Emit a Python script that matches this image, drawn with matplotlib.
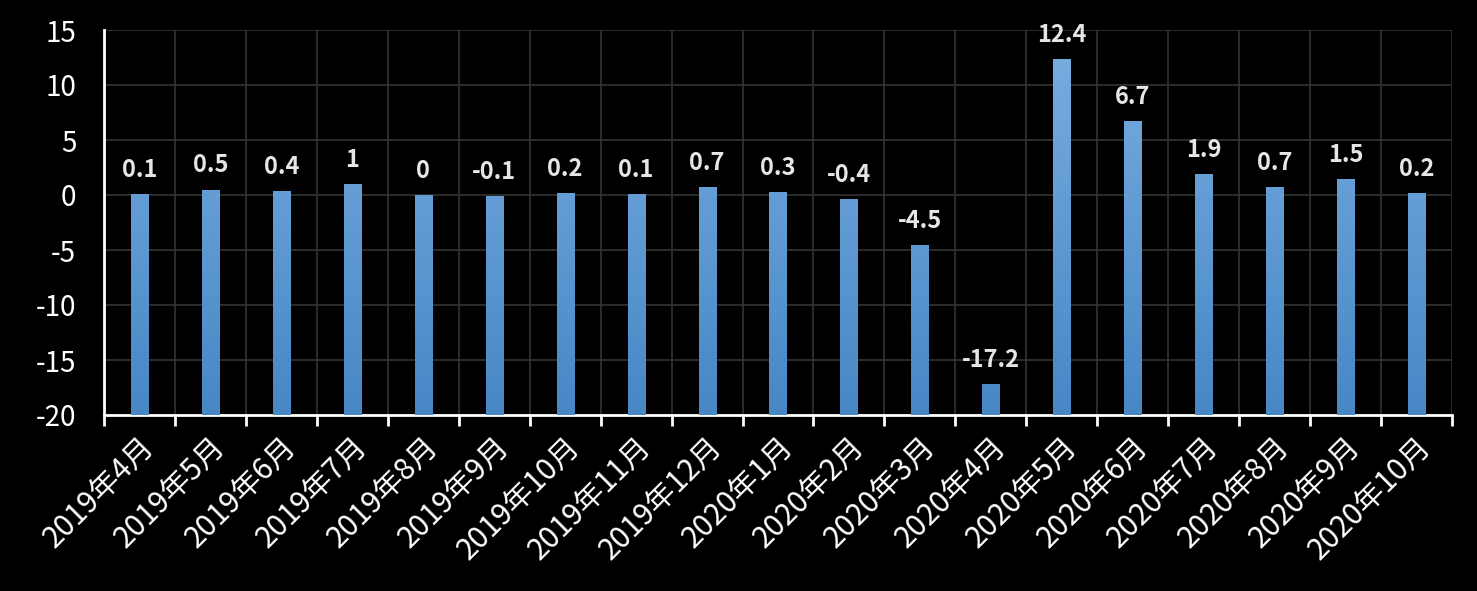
import numpy as np
import matplotlib.pyplot as plt
from matplotlib.colors import LinearSegmentedColormap

plt.rcParams['font.family'] = ['Noto Sans CJK SC', 'DejaVu Sans']

months = ['2019年4月', '2019年5月', '2019年6月', '2019年7月', '2019年8月', '2019年9月',
          '2019年10月', '2019年11月', '2019年12月', '2020年1月', '2020年2月', '2020年3月',
          '2020年4月', '2020年5月', '2020年6月', '2020年7月', '2020年8月', '2020年9月',
          '2020年10月']
values = [0.1, 0.5, 0.4, 1, 0, -0.1, 0.2, 0.1, 0.7, 0.3, -0.4, -4.5,
          -17.2, 12.4, 6.7, 1.9, 0.7, 1.5, 0.2]
yticks = [-20, -15, -10, -5, 0, 5, 10, 15]

ymin, ymax = -20, 15

fig = plt.figure(figsize=(14.77, 5.91), dpi=100, facecolor='black')
ax = fig.add_axes([104 / 1477, 1 - 415 / 591, 1348 / 1477, 385 / 591])
ax.set_facecolor('black')

x = np.arange(len(months))
bars = ax.bar(x, np.array(values) - ymin, bottom=ymin, width=0.24, color='#5f9ad8', zorder=2)

# vertical gradient in each bar
cmap = LinearSegmentedColormap.from_list('blu', ['#4787c6', '#7aaee0'])
grad = np.linspace(0, 1, 256).reshape(-1, 1)
for b in bars:
    bx, w = b.get_x(), b.get_width()
    im = ax.imshow(grad, cmap=cmap, origin='lower', aspect='auto',
                   extent=[bx, bx + w, ymin, ymax], zorder=3)
    im.set_clip_path(b)

for xi, v in zip(x, values):
    ax.annotate('%g' % v, (xi, v), xytext=(0, 12), textcoords='offset pixels',
                ha='center', va='bottom', color='#e6e6e6', fontsize=17,
                fontweight='bold', zorder=4)

ax.set_xlim(-0.5, len(months) - 0.5)
ax.set_ylim(ymin, ymax)
ax.set_yticks(yticks)
ax.set_yticklabels([str(t) for t in yticks])
ax.set_xticks(x)
ax.set_xticklabels(months, rotation=45, ha='right', rotation_mode='anchor')
ax.set_xticks(np.arange(-0.5, len(months)), minor=True)

ax.grid(True, which='minor', axis='x', color='#333333', linewidth=1.2, zorder=0)
ax.grid(True, which='major', axis='y', color='#333333', linewidth=1.2, zorder=0)

ax.tick_params(axis='y', length=0, colors='white', labelsize=20, pad=20)
ax.tick_params(axis='x', which='major', length=0, colors='white', labelsize=21.5, pad=12)
ax.tick_params(axis='x', which='minor', length=8, width=2, color='white')

for side in ['top', 'right']:
    ax.spines[side].set_visible(False)
for side in ['left', 'bottom']:
    ax.spines[side].set_color('white')
    ax.spines[side].set_linewidth(2)

fig.savefig('out.png', dpi=100, facecolor='black')
